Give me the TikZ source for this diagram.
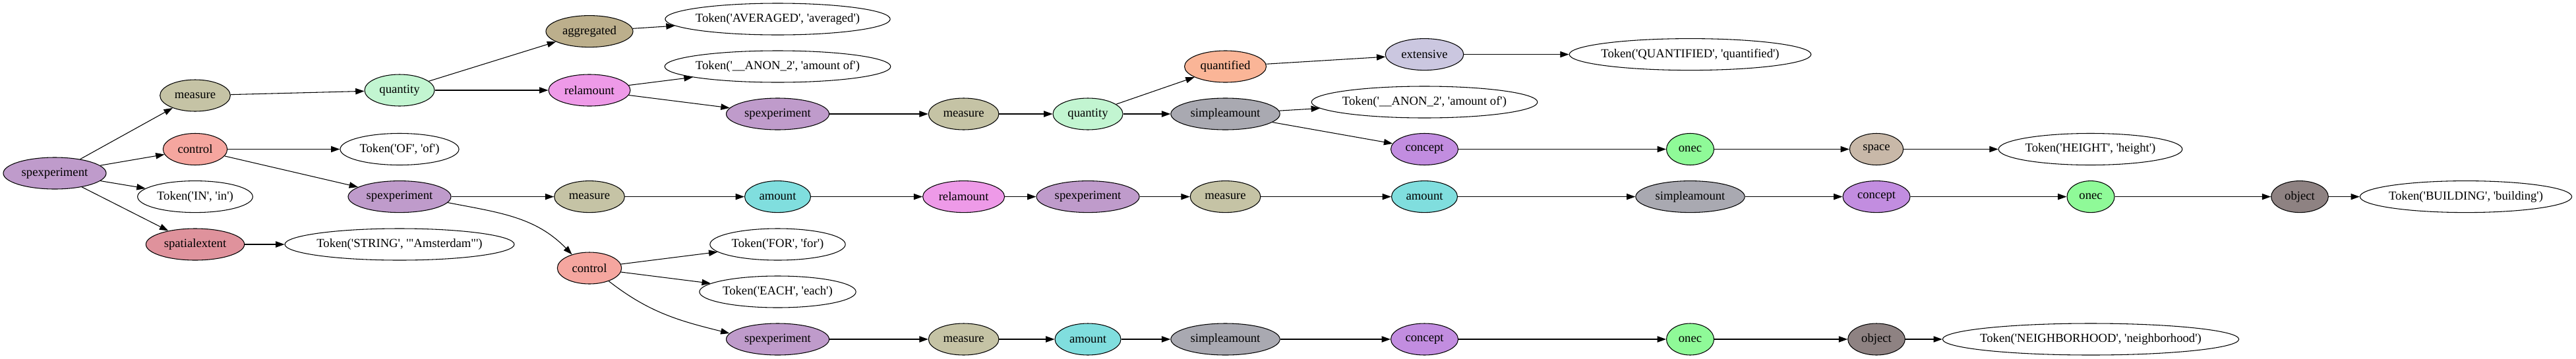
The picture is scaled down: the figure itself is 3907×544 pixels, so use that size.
\documentclass[tikz,border=0pt]{standalone}
\usepackage{fontspec}
\setmainfont{Liberation Serif}[Ligatures=TeXOff]
\usetikzlibrary{arrows.meta,shapes.geometric}
\definecolor{cSpexp}{HTML}{BF9BCB}
\definecolor{cMeasure}{HTML}{C5C3A5}
\definecolor{cControl}{HTML}{F5A69F}
\definecolor{cSpatial}{HTML}{DF929C}
\definecolor{cQuantity}{HTML}{C2F5D1}
\definecolor{cAggr}{HTML}{BCAF8C}
\definecolor{cRelam}{HTML}{EE9AE8}
\definecolor{cAmount}{HTML}{80DEDE}
\definecolor{cQuantified}{HTML}{FAB597}
\definecolor{cExtensive}{HTML}{CBC7E0}
\definecolor{cSimple}{HTML}{A9A9B1}
\definecolor{cConcept}{HTML}{C28DE0}
\definecolor{cOnec}{HTML}{8FFA98}
\definecolor{cSpace}{HTML}{C8B8A8}
\definecolor{cObject}{HTML}{8E8282}
\newcommand{\lbl}[1]{\makebox[0pt]{#1}}
\tikzset{
  nd/.style={ellipse, draw=black, line width=0.8pt, minimum height=36pt, inner sep=0pt,
             font=\fontsize{14}{17}\selectfont},
  tok/.style={nd, fill=white},
  spexp/.style={nd, fill=cSpexp, minimum width=117pt},
  meas/.style={nd, fill=cMeasure, minimum width=80pt},
  ctrl/.style={nd, fill=cControl, minimum width=73pt},
  spat/.style={nd, fill=cSpatial, minimum width=112pt},
  quan/.style={nd, fill=cQuantity, minimum width=79.5pt},
  aggr/.style={nd, fill=cAggr, minimum width=99pt},
  relam/.style={nd, fill=cRelam, minimum width=93pt},
  amnt/.style={nd, fill=cAmount, minimum width=75pt},
  quanf/.style={nd, fill=cQuantified, minimum width=93pt},
  extn/.style={nd, fill=cExtensive, minimum width=89pt},
  simp/.style={nd, fill=cSimple, minimum width=124pt},
  conc/.style={nd, fill=cConcept, minimum width=76.5pt},
  onecst/.style={nd, fill=cOnec, minimum width=54pt},
  spc/.style={nd, fill=cSpace, minimum width=61pt},
  objst/.style={nd, fill=cObject, minimum width=65pt},
  conn/.style={line width=0.8pt, -{Triangle[length=10pt, width=7pt]}},
}
\begin{document}
\begin{tikzpicture}[x=0.75pt, y=0.75pt]
\useasboundingbox (0,0) rectangle (3907,-544);
% column 1-3
\node[spexp] (root) at (83,-263) {\lbl{spexperiment}};
\node[meas] (m1) at (296,-145) {\lbl{measure}};
\node[ctrl] (c1) at (296,-226.5) {\lbl{control}};
\node[tok, minimum width=131pt] (tin) at (296,-298.6) {\lbl{Token('IN', 'in')}};
\node[spat] (sp) at (296,-371) {\lbl{spatialextent}};
\node[quan] (q1) at (606,-137) {\lbl{quantity}};
\node[tok, minimum width=135pt] (tof) at (606,-226.5) {\lbl{Token('OF', 'of')}};
\node[spexp] (s2) at (606,-298.6) {\lbl{spexperiment}};
\node[tok, minimum width=261pt] (tstr) at (606,-371) {\lbl{Token('STRING', '"Amsterdam"')}};
% column 4-5
\node[aggr] (ag) at (894,-47.6) {\lbl{aggregated}};
\node[tok, minimum width=256pt] (tav) at (1179.5,-29) {\lbl{Token('AVERAGED', 'averaged')}};
\node[relam] (ra1) at (894,-137) {\lbl{relamount}};
\node[tok, minimum width=257pt] (tan1) at (1179.5,-101) {\lbl{Token('\_\_ANON\_2', 'amount of')}};
\node[spexp] (s3) at (1179.5,-173) {\lbl{spexperiment}};
\node[meas] (m3) at (1461.6,-173) {\lbl{measure}};
\node[quan] (qb) at (1650,-173) {\lbl{quantity}};
\node[quanf] (qd) at (1858.5,-101) {\lbl{quantified}};
\node[extn] (ex) at (2160.5,-82.6) {\lbl{extensive}};
\node[tok, minimum width=275pt] (tq) at (2563.5,-82.6) {\lbl{Token('QUANTIFIED', 'quantified')}};
\node[simp] (sab) at (1858.5,-173) {\lbl{simpleamount}};
\node[tok, minimum width=257pt] (tan2) at (2160.5,-155) {\lbl{Token('\_\_ANON\_2', 'amount of')}};
\node[conc] (cb) at (2160.5,-226.5) {\lbl{concept}};
\node[onecst] (ob) at (2563.5,-226.5) {\lbl{onec}};
\node[spc] (spce) at (2846,-226.5) {\lbl{space}};
\node[tok, minimum width=209pt] (th) at (3170.5,-226.5) {\lbl{Token('HEIGHT', 'height')}};
% middle row
\node[meas] (mr) at (894,-298.6) {\lbl{measure}};
\node[amnt] (ar) at (1179.5,-298.6) {\lbl{amount}};
\node[relam] (rr) at (1461.6,-298.6) {\lbl{relamount}};
\node[spexp] (sr) at (1650,-298.6) {\lbl{spexperiment}};
\node[meas] (mr2) at (1858.5,-298.6) {\lbl{measure}};
\node[amnt] (ar2) at (2160.5,-298.6) {\lbl{amount}};
\node[simp] (sar) at (2563.5,-298.6) {\lbl{simpleamount}};
\node[conc] (cr) at (2846,-298.6) {\lbl{concept}};
\node[onecst] (onr) at (3171,-298.6) {\lbl{onec}};
\node[objst] (objr) at (3488,-298.6) {\lbl{object}};
\node[tok, minimum width=241pt] (tb) at (3740,-298.6) {\lbl{Token('BUILDING', 'building')}};
% lower part
\node[ctrl] (c2) at (894,-407) {\lbl{control}};
\node[tok, minimum width=154pt] (tfor) at (1179.5,-371) {\lbl{Token('FOR', 'for')}};
\node[tok, minimum width=178pt] (teach) at (1179.5,-443) {\lbl{Token('EACH', 'each')}};
\node[spexp] (sbot) at (1179.5,-515) {\lbl{spexperiment}};
\node[meas] (mbot) at (1461.6,-515) {\lbl{measure}};
\node[amnt] (abot) at (1650,-515) {\lbl{amount}};
\node[simp] (sabot) at (1858.5,-515) {\lbl{simpleamount}};
\node[conc] (cbot) at (2160.5,-515) {\lbl{concept}};
\node[onecst] (obot) at (2563.5,-515) {\lbl{onec}};
\node[objst] (objbot) at (2846,-515) {\lbl{object}};
\node[tok, minimum width=337pt] (tn) at (3171,-515) {\lbl{Token('NEIGHBORHOOD', 'neighborhood')}};
% edges
\draw[conn] (root) -- (m1);
\draw[conn] (root) -- (c1);
\draw[conn] (root) -- (tin);
\draw[conn] (root) -- (sp);
\draw[conn] (m1) -- (q1);
\draw[conn] (q1) -- (ag);
\draw[conn] (q1) -- (ra1);
\draw[conn] (ag) -- (tav);
\draw[conn] (ra1) -- (tan1);
\draw[conn] (ra1) -- (s3);
\draw[conn] (s3) -- (m3);
\draw[conn] (m3) -- (qb);
\draw[conn] (qb) -- (qd);
\draw[conn] (qb) -- (sab);
\draw[conn] (qd) -- (ex);
\draw[conn] (ex) -- (tq);
\draw[conn] (sab) -- (tan2);
\draw[conn] (sab) -- (cb);
\draw[conn] (cb) -- (ob);
\draw[conn] (ob) -- (spce);
\draw[conn] (spce) -- (th);
\draw[conn] (c1) -- (tof);
\draw[conn] (c1) -- (s2);
\draw[conn] (s2) -- (mr);
\draw[conn] (s2.-7.5) to[out=-11, in=134] (c2.142);
\draw[conn] (mr) -- (ar);
\draw[conn] (ar) -- (rr);
\draw[conn] (rr) -- (sr);
\draw[conn] (sr) -- (mr2);
\draw[conn] (mr2) -- (ar2);
\draw[conn] (ar2) -- (sar);
\draw[conn] (sar) -- (cr);
\draw[conn] (cr) -- (onr);
\draw[conn] (onr) -- (objr);
\draw[conn] (objr) -- (tb);
\draw[conn] (sp) -- (tstr);
\draw[conn] (c2) -- (tfor);
\draw[conn] (c2) -- (teach);
\draw[conn] (c2.-34.5) to[out=-38, in=166] (sbot.173);
\draw[conn] (sbot) -- (mbot);
\draw[conn] (mbot) -- (abot);
\draw[conn] (abot) -- (sabot);
\draw[conn] (sabot) -- (cbot);
\draw[conn] (cbot) -- (obot);
\draw[conn] (obot) -- (objbot);
\draw[conn] (objbot) -- (tn);
\end{tikzpicture}
\end{document}
